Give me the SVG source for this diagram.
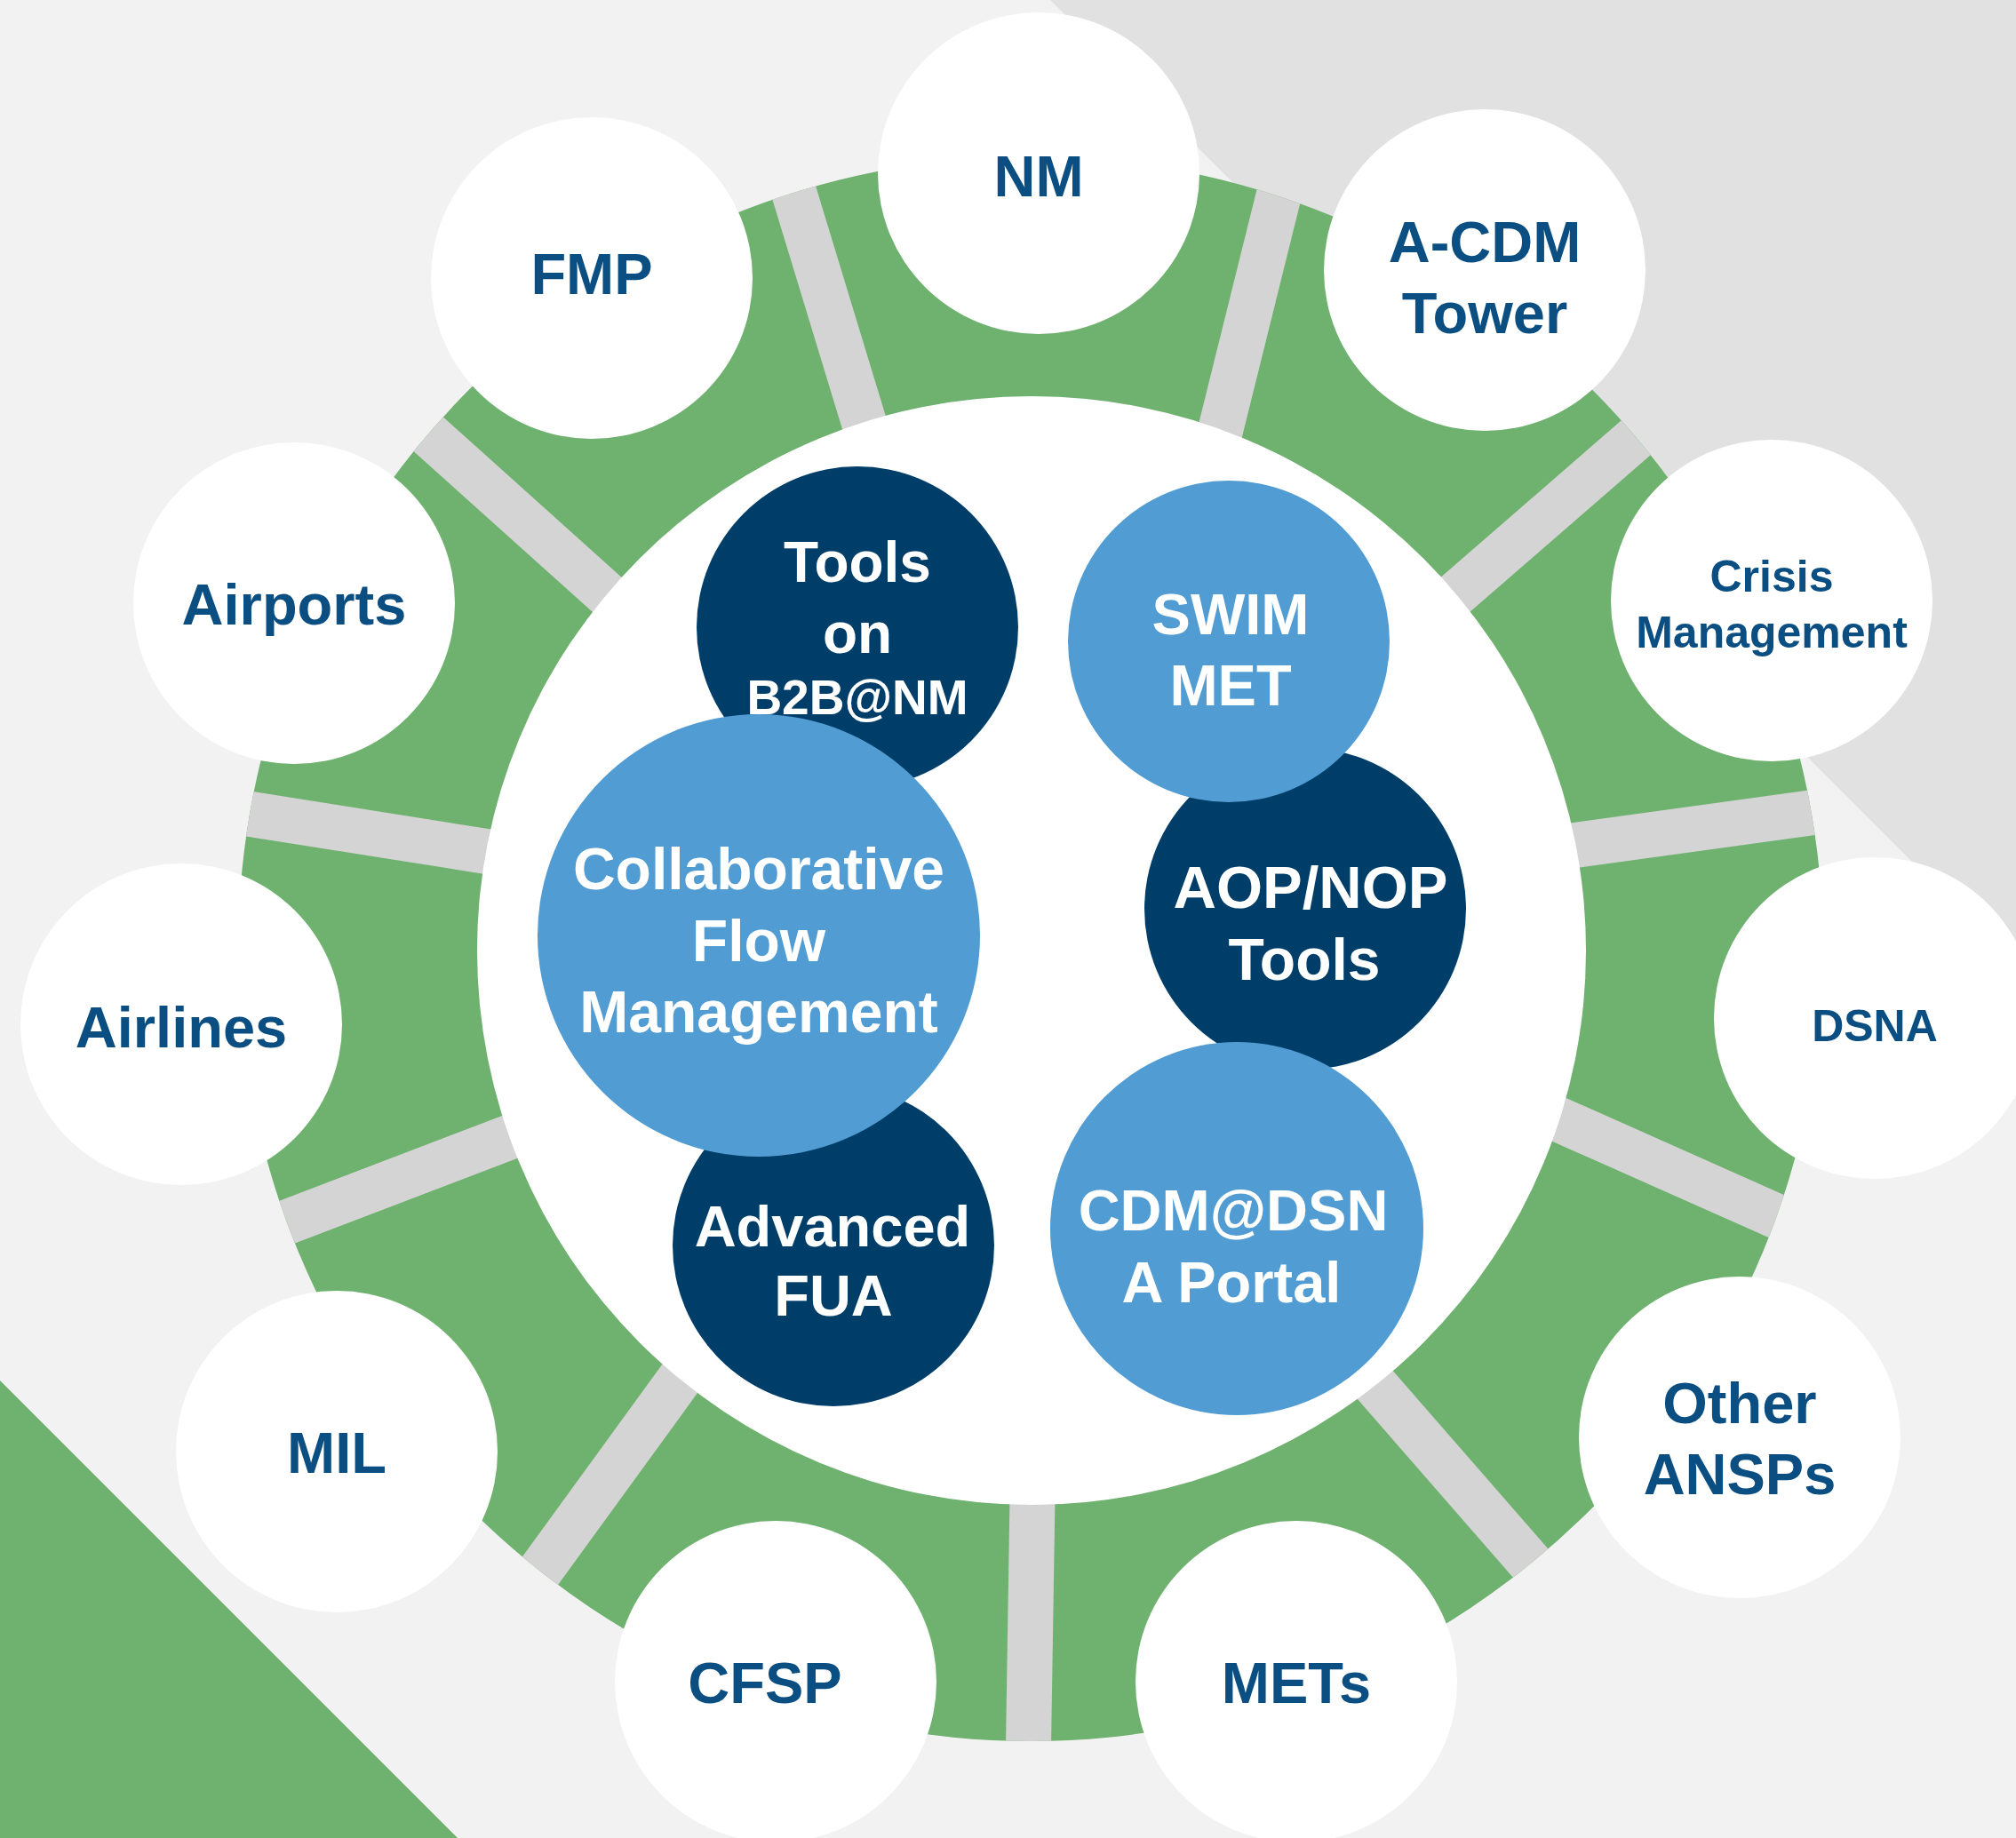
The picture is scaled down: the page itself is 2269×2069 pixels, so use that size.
<svg xmlns="http://www.w3.org/2000/svg" width="2269" height="2069" viewBox="0 0 2269 2069">
<style>
.sat{fill:#ffffff}
.dark{fill:#003e6a}
.light{fill:#519dd3}
.st{font-family:"Liberation Sans",Arial,sans-serif;font-weight:bold;fill:#0a4e82;text-anchor:middle}
.wt{font-family:"Liberation Sans",Arial,sans-serif;font-weight:bold;fill:#ffffff;text-anchor:middle}
.spoke{stroke:#d4d4d4;stroke-width:51;stroke-linecap:butt}
</style>
<defs>
<clipPath id="ringclip"><circle cx="1160" cy="1068" r="892"/></clipPath>
</defs>
<rect x="0" y="0" width="2269" height="2069" fill="#f2f2f2"/>
<polygon points="1182,0 2269,0 2269,1087" fill="#e1e1e1"/>
<polygon points="0,1554 515,2069 0,2069" fill="#6fb26f"/>
<circle cx="1160" cy="1068" r="892" fill="#6fb26f"/>
<g id="connectors" clip-path="url(#ringclip)">
<line class="spoke" x1="984.2" y1="514.3" x2="885.3" y2="189.3"/>
<line class="spoke" x1="1363.8" y1="523.6" x2="1446.4" y2="190.9"/>
<line class="spoke" x1="1608.4" y1="695" x2="1862" y2="474.7"/>
<line class="spoke" x1="1733.8" y1="956.8" x2="2066.6" y2="910.9"/>
<line class="spoke" x1="1719.4" y1="1244.6" x2="2023.4" y2="1379.8"/>
<line class="spoke" x1="1522.9" y1="1530.5" x2="1738.7" y2="1778"/>
<line class="spoke" x1="1162.5" y1="1654.4" x2="1157.2" y2="1984.4"/>
<line class="spoke" x1="787.9" y1="1520.6" x2="593.2" y2="1788.6"/>
<line class="spoke" x1="610.9" y1="1265.8" x2="300.7" y2="1384.2"/>
<line class="spoke" x1="587.1" y1="964.7" x2="256.8" y2="912.5"/>
<line class="spoke" x1="713" y1="696.1" x2="463.3" y2="471.8"/>
</g>
<circle cx="1161" cy="1070" r="624" fill="#ffffff"/>
<g id="nm"><circle class="sat" cx="1169" cy="195" r="181"/><text class="st" x="1169" y="221" font-size="65">NM</text></g>
<g id="fmp"><circle class="sat" cx="666" cy="313" r="181"/><text class="st" x="666" y="331" font-size="65">FMP</text></g>
<g id="acdm"><circle class="sat" cx="1671" cy="304" r="181"/><text class="st" x="1671" y="295" font-size="65">A-CDM</text><text class="st" x="1671" y="375" font-size="65">Tower</text></g>
<g id="crisis"><circle class="sat" cx="1994" cy="676" r="181"/><text class="st" x="1994" y="666" font-size="50">Crisis</text><text class="st" x="1994" y="729" font-size="50">Management</text></g>
<g id="dsna"><circle class="sat" cx="2110" cy="1146" r="181"/><text class="st" x="2110" y="1172" font-size="50">DSNA</text></g>
<g id="other"><circle class="sat" cx="1958" cy="1618" r="181"/><text class="st" x="1958" y="1602" font-size="65">Other</text><text class="st" x="1958" y="1682" font-size="65">ANSPs</text></g>
<g id="mets"><circle class="sat" cx="1459" cy="1893" r="181"/><text class="st" x="1459" y="1917" font-size="65">METs</text></g>
<g id="cfsp"><circle class="sat" cx="873" cy="1893" r="181"/><text class="st" x="861" y="1917" font-size="65">CFSP</text></g>
<g id="mil"><circle class="sat" cx="379" cy="1634" r="181"/><text class="st" x="379" y="1658" font-size="65">MIL</text></g>
<g id="airlines"><circle class="sat" cx="204" cy="1153" r="181"/><text class="st" x="204" y="1179" font-size="65">Airlines</text></g>
<g id="airports"><circle class="sat" cx="331" cy="679" r="181"/><text class="st" x="331" y="703" font-size="65">Airports</text></g>
<g id="tools-b2b"><circle class="dark" cx="965" cy="706" r="181"/><text class="wt" x="965" y="655" font-size="64">Tools</text><text class="wt" x="965" y="735" font-size="64">on</text><text class="wt" x="965" y="804" font-size="55">B2B@NM</text></g>
<g id="aop-nop"><circle class="dark" cx="1469" cy="1023" r="181"/><text class="wt" x="1475" y="1022" font-size="67">AOP/NOP</text><text class="wt" x="1468" y="1103" font-size="66">Tools</text></g>
<g id="swim-met"><circle class="light" cx="1383" cy="722" r="181"/><text class="wt" x="1385" y="714" font-size="65">SWIM</text><text class="wt" x="1385" y="794" font-size="65">MET</text></g>
<g id="cdm-dsna"><circle class="light" cx="1392" cy="1383" r="210"/><text class="wt" x="1388" y="1385" font-size="65">CDM@DSN</text><text class="wt" x="1386" y="1466" font-size="65">A Portal</text></g>
<g id="adv-fua"><circle class="dark" cx="938" cy="1402" r="181"/><text class="wt" x="937" y="1403" font-size="65">Advanced</text><text class="wt" x="938" y="1481" font-size="65">FUA</text></g>
<g id="cfm"><circle class="light" cx="854" cy="1053" r="249"/><text class="wt" x="854" y="1001" font-size="66">Collaborative</text><text class="wt" x="854" y="1082" font-size="66">Flow</text><text class="wt" x="854" y="1162" font-size="66">Management</text></g>
</svg>
